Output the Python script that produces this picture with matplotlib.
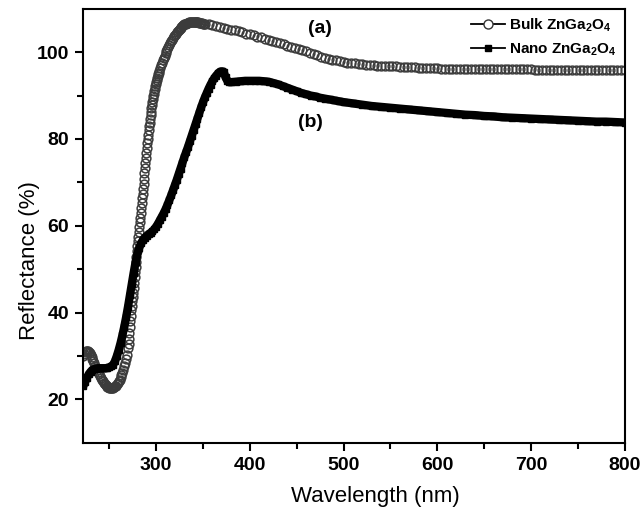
import numpy as np
import matplotlib.pyplot as plt
from matplotlib.lines import Line2D

plt.rcParams['font.family'] = ['Liberation Sans', 'DejaVu Sans']
plt.rcParams['mathtext.fontset'] = 'custom'
plt.rcParams['mathtext.bf'] = 'Liberation Sans:bold'
plt.rcParams['mathtext.rm'] = 'Liberation Sans:bold'

# --- bulk ZnGa2O4, reflectance (%) on the spectrometer wavelength grid ---
wl_bulk = np.concatenate([np.arange(222, 270, 1.0),     # 222-269 nm, 1 nm
                          np.arange(270, 303.5, 0.5),   # 270-303 nm, 0.5 nm
                          np.arange(304, 353, 1.0),     # 304-352 nm, 1 nm
                          np.arange(356, 801, 4.0)])    # 356-800 nm, 4 nm
r_bulk = [
    # 222-269
    30.0, 30.5, 30.9, 31.1, 31.2, 31.1, 30.9, 30.6, 30.2, 29.8, 29.3, 28.8,
    28.3, 27.8, 27.3, 26.8, 26.3, 25.8, 25.4, 25.0, 24.6, 24.2, 23.9, 23.6,
    23.3, 23.1, 22.9, 22.8, 22.7, 22.6, 22.6, 22.6, 22.7, 22.8, 23.0, 23.2,
    23.5, 23.8, 24.2, 24.6, 25.1, 25.6, 26.2, 26.9, 27.6, 28.4, 29.3, 30.3,
    # 270-303
    31.8, 32.8, 34.0, 35.3, 36.6, 38.0, 39.3, 40.5, 41.6, 42.6, 43.6, 44.6,
    45.7, 46.9, 48.1, 49.3, 50.5, 51.7, 52.9, 54.1, 55.3, 56.4, 57.5, 58.6,
    59.7, 60.8, 61.9, 63.0, 64.1, 65.2, 66.3, 67.4, 68.5, 69.7, 70.9, 72.1,
    73.3, 74.5, 75.7, 76.8, 77.9, 79.0, 80.0, 81.0, 82.0, 82.9, 83.8, 84.7,
    85.5, 86.3, 87.1, 87.8, 88.5, 89.2, 89.8, 90.4, 91.0, 91.6, 92.1, 92.6,
    93.1, 93.6, 94.1, 94.5, 94.9, 95.3, 95.7,
    # 304-352
    96.4, 97.0, 97.6, 98.2, 98.7, 99.2, 99.7, 100.2, 100.7, 101.2, 101.7, 102.1,
    102.5, 102.9, 103.3, 103.7, 104.0, 104.3, 104.6, 104.9, 105.2, 105.4, 105.6, 105.8,
    106.0, 106.2, 106.4, 106.5, 106.6, 106.7, 106.8, 106.9, 106.9, 107.0, 107.0, 107.0,
    107.0, 107.0, 107.0, 106.9, 106.9, 106.9, 106.8, 106.8, 106.7, 106.7, 106.6, 106.6,
    106.5,
    # 356-800
    106.4, 106.2, 106.0, 105.8, 105.6, 105.4, 105.2, 105.0, 104.8, 104.6, 104.3, 104.1,
    103.9, 103.6, 103.4, 103.1, 102.8, 102.6, 102.3, 102.0, 101.8, 101.5, 101.3, 101.0,
    100.8, 100.5, 100.2, 99.9, 99.6, 99.3, 99.0, 98.7, 98.5, 98.3, 98.1, 97.9,
    97.8, 97.6, 97.5, 97.4, 97.3, 97.2, 97.1, 97.0, 97.0, 96.9, 96.9, 96.8,
    96.8, 96.7, 96.7, 96.6, 96.6, 96.5, 96.5, 96.5, 96.4, 96.4, 96.4, 96.3,
    96.3, 96.3,
    96.2, 96.2, 96.2, 96.2, 96.2, 96.2, 96.2, 96.2, 96.2, 96.2,
    96.1, 96.1, 96.1, 96.1, 96.1, 96.1, 96.1, 96.1, 96.1, 96.1, 96.1, 96.1,
    96.1, 96.1, 96.1,
    96.0, 96.0, 96.0, 96.0, 96.0, 96.0, 96.0, 96.0, 96.0, 96.0, 96.0, 96.0,
    96.0, 96.0, 96.0, 96.0, 96.0, 96.0, 96.0, 96.0, 96.0, 96.0, 96.0, 96.0, 96.0,
]
assert len(wl_bulk) == len(r_bulk), (len(wl_bulk), len(r_bulk))

# --- nano ZnGa2O4 ---
wl_nano = [222, 224, 226, 228, 230, 232, 234, 236, 238, 240, 242, 244, 246, 248,
           250, 252, 254, 256, 258, 260, 262, 264, 266, 268, 270, 272, 274, 276,
           278, 280, 282, 284, 286, 288, 290, 292, 294, 296, 298, 300, 302, 304,
           306, 308, 310, 312, 314, 316, 318, 320, 322, 324, 326, 328, 330, 332,
           334, 336, 338, 340, 342, 344, 346, 348, 350, 352, 354, 356, 358, 360,
           362, 364, 366, 368, 370, 372, 374, 376, 378, 380, 385, 390, 395, 400,
           405, 410, 415, 420, 425, 430, 435, 440, 445, 450, 455, 460, 465, 470,
           475, 480, 485, 490, 495, 500, 510, 520, 530, 540, 550, 560, 570, 580,
           590, 600, 610, 620, 630, 640, 650, 660, 670, 680, 690, 700, 710, 720,
           730, 740, 750, 760, 770, 780, 790, 800]
r_nano = [23.0, 24.0, 25.0, 25.8, 26.4, 26.8, 27.0, 27.1, 27.2, 27.2, 27.2, 27.2, 27.2, 27.3,
          27.4, 27.6, 28.0, 28.8, 30.0, 31.4, 33.0, 34.8, 36.8, 39.0, 41.4, 44.0, 46.6, 49.2,
          51.6, 53.6, 55.0, 56.0, 56.8, 57.3, 57.7, 58.1, 58.4, 58.7, 59.2, 59.8, 60.5, 61.3,
          62.1, 62.9, 63.8, 64.8, 65.9, 67.0, 68.2, 69.4, 70.6, 71.9, 73.2, 74.5, 75.8, 77.0,
          78.2, 79.5, 80.8, 82.1, 83.4, 84.7, 86.0, 87.3, 88.5, 89.6, 90.6, 91.6, 92.5, 93.3,
          94.0, 94.6, 95.1, 95.5, 95.6, 95.5, 94.2, 93.4, 93.1, 93.1, 93.2, 93.3, 93.4, 93.4,
          93.4, 93.4, 93.3, 93.2, 92.9, 92.6, 92.2, 91.8, 91.4, 91.0, 90.6, 90.3, 90.0, 89.8,
          89.5, 89.3, 89.1, 88.9, 88.7, 88.5, 88.2, 87.9, 87.6, 87.4, 87.2, 87.0, 86.8, 86.6,
          86.4, 86.2, 86.0, 85.8, 85.6, 85.5, 85.3, 85.2, 85.0, 84.9, 84.8, 84.7, 84.6, 84.5,
          84.4, 84.3, 84.2, 84.1, 84.0, 84.0, 83.9, 83.8]

bulk_label = r'Bulk ZnGa$_{\mathbf{2}}$O$_{\mathbf{4}}$'
nano_label = r'Nano ZnGa$_{\mathbf{2}}$O$_{\mathbf{4}}$'

fig = plt.figure(figsize=(6.44, 5.15), dpi=100)
ax = fig.add_axes([0.129, 0.140, 0.841, 0.843])

# hollow circles, dense enough to merge into a band where the curve is flat
ax.plot(wl_bulk, r_bulk, linestyle='none', marker='o', markersize=6.3,
        markerfacecolor='none', markeredgecolor='#3c3c3c', markeredgewidth=1.1,
        zorder=2)
# nano sample: solid squares, drawn as a heavy band
ax.plot(wl_nano, r_nano, color='black', lw=6.0, marker='s', markersize=5.0,
        markerfacecolor='black', markeredgecolor='black', zorder=3,
        solid_joinstyle='round', solid_capstyle='butt')

ax.set_xlim(222, 800)
ax.set_ylim(10, 110)
ax.set_xticks([300, 400, 500, 600, 700, 800])
ax.set_xticks([250, 350, 450, 550, 650, 750], minor=True)
ax.set_yticks([20, 40, 60, 80, 100])
ax.set_yticks([30, 50, 70, 90], minor=True)

for s in ax.spines.values():
    s.set_linewidth(1.5)
ax.tick_params(which='major', direction='out', length=6, width=1.5, labelsize=14, pad=4)
ax.tick_params(which='minor', direction='out', length=4, width=1.5)
for lab in ax.get_xticklabels() + ax.get_yticklabels():
    lab.set_fontweight('bold')

ax.set_xlabel('Wavelength (nm)', fontsize=16)
ax.set_ylabel('Reflectance (%)', fontsize=16)
ax.xaxis.set_label_coords(0.54, -0.1)
ax.yaxis.set_label_coords(-0.08, 0.42)

ax.text(475, 105.5, '(a)', fontsize=14, fontweight='bold', ha='center', va='center')
ax.text(465, 83.7, '(b)', fontsize=14, fontweight='bold', ha='center', va='center')

handles = [
    Line2D([], [], color='black', lw=1.3, marker='o', markersize=6.5,
           markerfacecolor='white', markeredgecolor='#333333', markeredgewidth=1.0),
    Line2D([], [], color='black', lw=1.3, marker='s', markersize=5,
           markerfacecolor='black', markeredgecolor='black'),
]
ax.legend(handles, [bulk_label, nano_label], loc='upper right', frameon=False,
          prop={'weight': 'bold', 'size': 11}, handlelength=2.2,
          handletextpad=0.3, labelspacing=0.5, borderaxespad=0.1)

fig.savefig('out.png', dpi=100)
